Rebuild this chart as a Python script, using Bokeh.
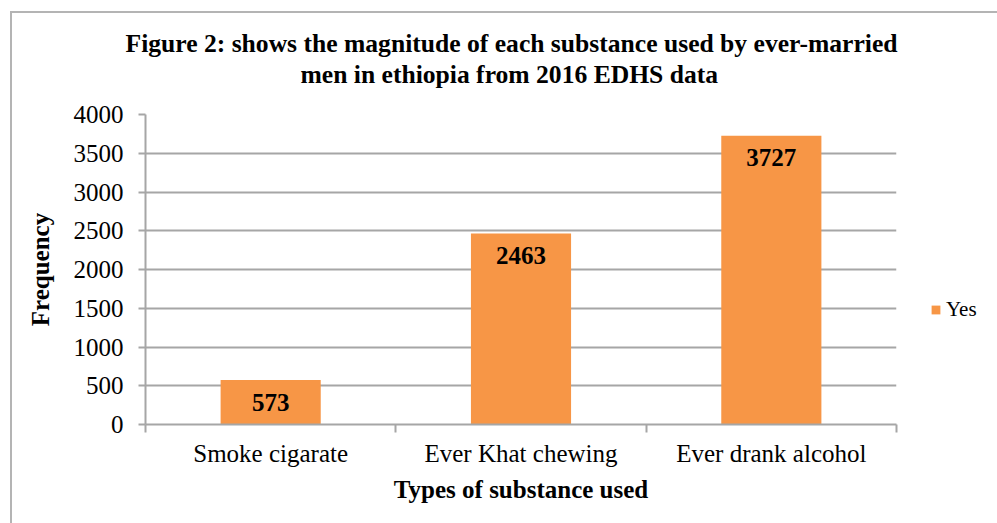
from bokeh.plotting import figure
from bokeh.layouts import row
from bokeh.models import (Range1d, FixedTicker, Legend, LegendItem, Title,
                          ColumnDataSource)
from bokeh.core.properties import value
from bokeh.embed import file_html
from bokeh.resources import INLINE

categories = ["Smoke cigarate", "Ever Khat chewing", "Ever drank alcohol"]
counts = [573, 2463, 3727]
y_ticks = [0, 500, 1000, 1500, 2000, 2500, 3000, 3500, 4000]
series_name = "Yes"
title_lines = ["Figure 2: shows the magnitude of each substance used by ever-married",
               "men in ethiopia from 2016 EDHS data"]

FONT = "Liberation Serif"
BAR = "#F79646"
GRAY = "#A6A6A6"

pos = [i + 0.5 for i in range(len(categories))]
src = ColumnDataSource(dict(x=pos, top=counts, lab=[str(c) for c in counts]))

p = figure(width=886, height=510, output_backend="svg", toolbar_location=None,
           x_range=Range1d(0, len(categories)), y_range=Range1d(y_ticks[0], y_ticks[-1]),
           min_border_left=133, min_border_right=2, min_border_top=101,
           min_border_bottom=99)
p.outline_line_color = None
p.background_fill_color = "white"
p.border_fill_color = "white"

bars = p.vbar(x="x", top="top", width=0.4, bottom=0, source=src,
              fill_color=BAR, line_color=None)

p.text(x="x", y="top", text="lab", source=src, y_offset=22,
       text_align="center", text_baseline="middle",
       text_font=value(FONT), text_font_size="25px", text_font_style="bold",
       text_color="black")

# axes
xa = p.xaxis[0]
xa.ticker = FixedTicker(ticks=pos, minor_ticks=list(range(len(categories) + 1)))
xa.major_label_overrides = {pp: c for pp, c in zip(pos, categories)}
xa.major_tick_line_color = None
xa.major_tick_out = 0
xa.major_tick_in = 0
xa.minor_tick_line_color = GRAY
xa.minor_tick_line_width = 2
xa.minor_tick_out = 8
xa.minor_tick_in = 0
xa.axis_line_color = GRAY
xa.axis_line_width = 2
xa.major_label_standoff = 7
xa.major_label_text_font = FONT
xa.major_label_text_font_size = "25px"
xa.major_label_text_color = "black"
xa.axis_label = "Types of substance used"
xa.axis_label_text_font = FONT
xa.axis_label_text_font_size = "25px"
xa.axis_label_text_font_style = "bold"
xa.axis_label_text_color = "black"
xa.axis_label_standoff = 6

ya = p.yaxis[0]
ya.ticker = FixedTicker(ticks=y_ticks)
ya.major_tick_line_color = GRAY
ya.major_tick_line_width = 2
ya.major_tick_out = 7
ya.major_tick_in = 0
ya.minor_tick_line_color = None
ya.axis_line_color = GRAY
ya.axis_line_width = 2
ya.major_label_standoff = 15
ya.major_label_text_font = FONT
ya.major_label_text_font_size = "25px"
ya.major_label_text_color = "black"
ya.axis_label = "Frequency"
ya.axis_label_text_font = FONT
ya.axis_label_text_font_size = "25px"
ya.axis_label_text_font_style = "bold"
ya.axis_label_text_color = "black"
ya.axis_label_standoff = 17

p.xgrid.grid_line_color = None
p.ygrid.grid_line_color = GRAY
p.ygrid.grid_line_width = 2

# title: spacer nearest the plot, then line 2, then line 1
p.add_layout(Title(text=" ", text_font_size="1px", standoff=23), "above")
p.add_layout(Title(text=title_lines[1], align="left", offset=155, text_font=FONT,
                   text_font_size="25.6px", text_font_style="bold",
                   text_color="black", standoff=0), "above")
p.add_layout(Title(text=title_lines[0], align="left", offset=-20, text_font=FONT,
                   text_font_size="25.6px", text_font_style="bold",
                   text_color="black", standoff=0), "above")

# legend in a small side figure (its bars lie outside that figure's view)
lg = figure(width=99, height=510, output_backend="svg", toolbar_location=None,
            x_axis_type=None, y_axis_type=None, min_border=0,
            x_range=Range1d(-1, 0), y_range=Range1d(0, 1))
lg.outline_line_color = None
lg.xgrid.visible = False
lg.ygrid.visible = False
legend_bars = lg.vbar(x="x", top="top", width=0.4, bottom=0, source=src,
                      fill_color=BAR, line_color=None)
legend = Legend(items=[LegendItem(label=series_name, renderers=[legend_bars])],
                location=(32, 102), orientation="vertical",
                glyph_width=11, glyph_height=11, label_height=22,
                label_standoff=5, padding=0, margin=0, spacing=0,
                label_text_font=FONT, label_text_font_size="21px",
                label_text_color="black",
                background_fill_color=None, border_line_color=None)
lg.add_layout(legend)

layout = row(p, lg)
layout.margin = (11, 0, 0, 10)
layout.styles = {"border-left": "2px solid #B4B4B4", "border-top": "2px solid #B4B4B4"}

open("out.html", "w").write(file_html(layout, INLINE))
